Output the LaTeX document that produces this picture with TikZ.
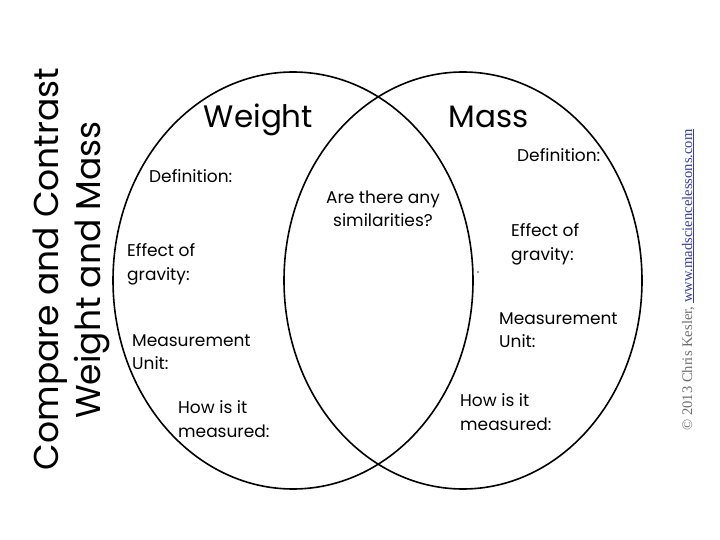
\documentclass[tikz,border=0pt]{standalone}
\usepackage{fontspec}
\setmainfont{Poppins}
\newfontfamily\crfont{Liberation Serif}
\usetikzlibrary{shapes.geometric}
\definecolor{crgray}{HTML}{6E6E6E}
\definecolor{crblue}{HTML}{3A3AA8}
\definecolor{dotred}{HTML}{8A2020}
\begin{document}
\begin{tikzpicture}[x=1pt,y=-1pt,
  ring/.style={draw=black, line width=1.6pt, ellipse, inner sep=0pt,
    minimum width=#1},
  lbl/.style={anchor=base west, align=left, inner sep=0pt,
    font=\fontsize{17}{23.5}\selectfont},
  headtxt/.style={anchor=base, inner sep=0pt, font=\fontsize{31}{31}\selectfont},
  titletxt/.style={anchor=base, rotate=90, inner sep=0pt, font=\fontsize{34.5}{35}\selectfont},
  crtxt/.style={anchor=base, rotate=90, inner sep=0pt, font=\crfont\fontsize{14.6}{15}\selectfont}]
\useasboundingbox (0,0) rectangle (720,540);
\fill[white] (0,0) rectangle (720,540);

% the two sets
\node[ring=360pt, minimum height=417pt] (wset) at (293,280.5) {};
\node[ring=358pt, minimum height=417pt] (mset) at (463,280.5) {};

% headings
\node[headtxt] (wt) at (258.5,128) {Weight};
\node[headtxt] (ms) at (488.5,128) {Mass};

% left set labels (anchor = baseline of the last line)
\node[lbl] (wdef) at (149,183) {Definition:};
\node[lbl] (weff) at (127,280) {Effect of\\gravity:};
\node[lbl] (wunit) at (132,369.5) {Measurement\\Unit:};
\node[lbl] (whow) at (178,437) {How is it\\measured:};

% overlap
\node[lbl, anchor=base, align=center] (sim) at (383,226.5) {Are there any\\similarities?};

% right set labels
\node[lbl] (mdef) at (517,161.5) {Definition:};
\node[lbl] (meff) at (511,260) {Effect of\\gravity:};
\node[lbl] (munit) at (499,347.5) {Measurement\\Unit:};
\node[lbl] (mhow) at (460,430) {How is it\\measured:};

% title
\node[titletxt] (t1) at (58,269) {Compare and Contrast};
\node[titletxt] (t2) at (100,270) {Weight and Mass};

% copyright
\node[crtxt] (cr) at (692,280) {\textcolor{crgray}{© 2013 Chris Kesler,} \textcolor{crblue}{\underline{www.madsciencelessons.com}}};

% stray dot
\fill[dotred] (478,272) circle (0.9pt);
\end{tikzpicture}
\end{document}
